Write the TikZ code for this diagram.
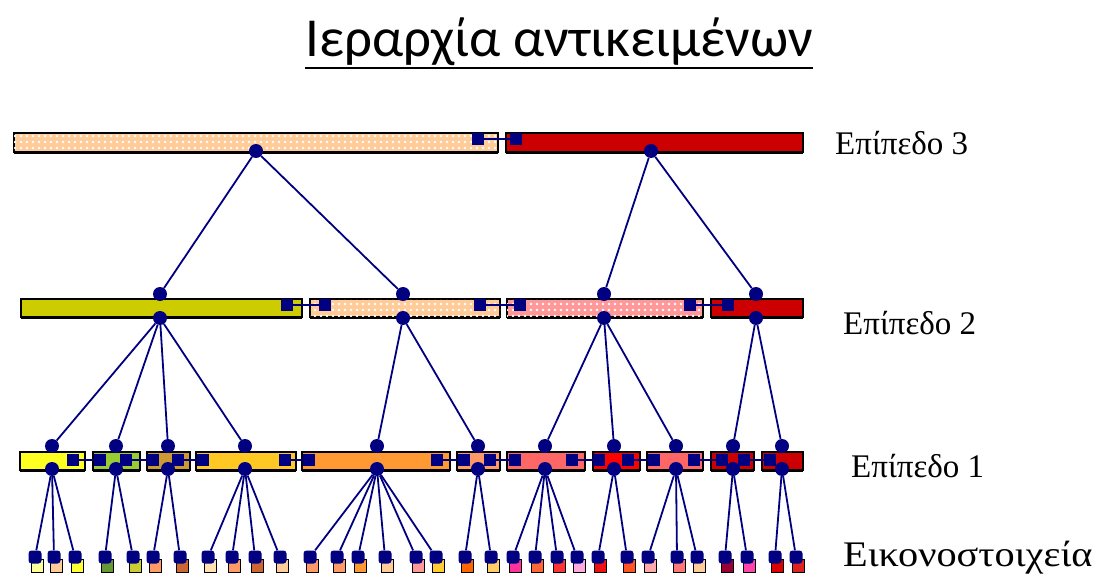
\documentclass[tikz,border=0pt]{standalone}
\usepackage{fontspec}
\setmainfont{Liberation Serif}
\newfontfamily\titlefont{Carlito}
\usetikzlibrary{patterns}
\pgfdeclarepatternformonly{wdots}{\pgfqpoint{-1pt}{-1pt}}{\pgfqpoint{7pt}{7pt}}{\pgfqpoint{6pt}{6pt}}{\pgfpathcircle{\pgfqpoint{3pt}{3pt}}{1.3pt}\pgfusepath{fill}}
\definecolor{navy}{HTML}{000080}
\definecolor{peach}{HTML}{FFCC99}
\definecolor{pinkb}{HTML}{FF9999}
\definecolor{dred}{HTML}{CC0000}
\definecolor{olive}{HTML}{CCCC00}
\definecolor{la}{HTML}{FFFF22}
\definecolor{lb}{HTML}{99CC33}
\definecolor{lc}{HTML}{CC9933}
\definecolor{ld}{HTML}{FFC822}
\definecolor{le}{HTML}{FF9933}
\definecolor{lf}{HTML}{FF9966}
\definecolor{lg}{HTML}{FF6666}
\definecolor{lh}{HTML}{FF0000}
\definecolor{li}{HTML}{FF6666}
\definecolor{lj}{HTML}{CC0000}
\definecolor{lk}{HTML}{CC0000}
\definecolor{px1}{HTML}{FFFF99}
\definecolor{px2}{HTML}{FFCC99}
\definecolor{px3}{HTML}{FFFF33}
\definecolor{px4}{HTML}{669933}
\definecolor{px5}{HTML}{CCCC33}
\definecolor{px6}{HTML}{FF9966}
\definecolor{px7}{HTML}{CC6633}
\definecolor{px8}{HTML}{FFE0B0}
\definecolor{px9}{HTML}{FF9966}
\definecolor{px10}{HTML}{CC6633}
\definecolor{px11}{HTML}{FFCC99}
\definecolor{px12}{HTML}{FF9966}
\definecolor{px13}{HTML}{FF9966}
\definecolor{px14}{HTML}{FF9933}
\definecolor{px15}{HTML}{FFCC99}
\definecolor{px16}{HTML}{FF9999}
\definecolor{px17}{HTML}{FFCC33}
\definecolor{px18}{HTML}{FF6600}
\definecolor{px19}{HTML}{FFCC66}
\definecolor{px20}{HTML}{FF3399}
\definecolor{px21}{HTML}{FF6633}
\definecolor{px22}{HTML}{FF3333}
\definecolor{px23}{HTML}{FFAADD}
\definecolor{px24}{HTML}{EE1111}
\definecolor{px25}{HTML}{FF5522}
\definecolor{px26}{HTML}{FFAAAA}
\definecolor{px27}{HTML}{FF7777}
\definecolor{px28}{HTML}{FFCC99}
\definecolor{px29}{HTML}{990033}
\definecolor{px30}{HTML}{FF44AA}
\definecolor{px31}{HTML}{DD0000}
\definecolor{px32}{HTML}{DD2222}
\newcommand\mybar[6]{%
  \node[bar,#6,minimum width={(#3-#2)*1pt},minimum height={(#5-#4)*1pt}] (#1) at ({(#2+#3)/2},{(#4+#5)/2}) {};
  \draw[line width=1.2pt] ([yshift=-1pt]#1.south west) -- ([yshift=-1pt]#1.south east);}
\tikzset{
  bar/.style={draw=black,line width=1.6pt,rectangle,inner sep=0pt,outer sep=0pt},
  dotfill/.style={fill=#1,postaction={pattern=wdots,pattern color=white}},
  dot/.style={circle,fill=navy,inner sep=0pt,minimum size=14pt},
  sq/.style={rectangle,fill=navy,inner sep=0pt,minimum size=12pt},
  conn/.style={draw=navy,line width=1.8pt},
  link/.style={draw=navy,line width=1.4pt},
  pbody/.style={rectangle,draw=black,line width=0.9pt,inner sep=0pt,minimum width=12pt,minimum height=13pt},
  pcap/.style={rectangle,rounded corners=3pt,fill=navy,inner sep=0pt,minimum width=13pt,minimum height=13pt},
  lab/.style={anchor=west,inner sep=0pt,font=\fontsize{33}{39}\selectfont},
}
\begin{document}
\begin{tikzpicture}[x=1pt,y=-1pt]
\fill[white] (0,0) rectangle (1096,583);
\useasboundingbox (0,0) rectangle (1096,583);
% title
\node[anchor=base,inner sep=0pt,font=\titlefont\fontsize{55}{64}\selectfont] (title) at (559,57) {Ιεραρχία αντικειμένων};
\draw[line width=2.8pt] ([yshift=-11pt]title.base west) -- ([yshift=-11pt]title.base east);
% level 3
\mybar{A}{14}{498}{133}{152}{dotfill=peach}
\mybar{B}{506}{803}{133}{152}{fill=dred}
\node[sq] (sA) at (478,139) {};
\node[sq] (sB) at (516,139) {};
\draw[link] (sA) -- (sB);
\node[dot] (dA) at (256,151) {};
\node[dot] (dB) at (651,151) {};
% level 2
\mybar{C1}{21}{302}{299}{317}{fill=olive}
\mybar{C2}{310}{500}{299}{317}{dotfill=peach}
\mybar{C3}{507}{703}{299}{317}{dotfill=pinkb}
\mybar{C4}{711}{803}{299}{317}{fill=dred}
\node[sq] (r21) at (287,305) {};
\node[sq] (l22) at (325,305) {};
\node[sq] (r22) at (480,305) {};
\node[sq] (l23) at (520,305) {};
\node[sq] (r23) at (690,305) {};
\node[sq] (l24) at (728,305) {};
\draw[link] (r21) -- (l22);
\draw[link] (r22) -- (l23);
\draw[link] (r23) -- (l24);
\foreach \i/\x in {1/160,2/403,3/604,4/756}{
  \node[dot] (t2\i) at (\x,294) {};
  \node[dot] (b2\i) at (\x,318) {};
}
\draw[conn] (dA) -- (t21);
\draw[conn] (dA) -- (t22);
\draw[conn] (dB) -- (t23);
\draw[conn] (dB) -- (t24);
% level 1
\foreach \i/\l/\r/\c/\d in {1/20/85/la/52,2/93/140/lb/116,3/147/190/lc/168,4/196/296/ld/245,5/302/450/le/377,6/457/500/lf/478,7/507/585/lg/545,8/593/640/lh/614,9/647/703/li/676,10/711/754/lj/733,11/762/803/lk/782}{
  \mybar{L\i}{\l}{\r}{452}{470}{fill=\c}
}
\foreach \i/\x in {2/100,3/153,4/203,5/309,6/464,7/515,8/599,9/654,10/722,11/770}{
  \node[sq] (ql\i) at (\x,460) {};
}
\foreach \i/\x in {1/73,2/126,3/178,4/285,5/437,6/490,7/572,8/628,9/694,10/744}{
  \node[sq] (qr\i) at (\x,460) {};
}
\foreach \i [evaluate=\i as \j using int(\i+1)] in {1,...,10}{
  \draw[link] (qr\i) -- (ql\j);
}
\foreach \i/\x in {1/52,2/116,3/168,4/245,5/377,6/478,7/545,8/614,9/676,10/733,11/782}{
  \node[dot] (u\i) at (\x,446) {};
  \node[dot] (v\i) at (\x,469) {};
}
\foreach \p/\k in {1/1,1/2,1/3,1/4,2/5,2/6,3/7,3/8,3/9,4/10,4/11}{
  \draw[conn] (b2\p) -- (u\k);
}
% pixels
\foreach \i/\x/\p in {1/35/1,2/54/1,3/75/1,4/105/2,5/133/2,6/153/3,7/180/3,8/208/4,9/232/4,10/255/4,11/280/4,12/310/5,13/337/5,14/358/5,15/385/5,16/416/5,17/436/5,18/465/6,19/491/6,20/513/7,21/535/7,22/557/7,23/577/7,24/598/8,25/627/8,26/648/9,27/677/9,28/697/9,29/725/10,30/747/10,31/775/11,32/796/11}{
  \node[pbody,fill=px\i] (pb\i) at (\x+2.5,566) {};
  \node[pcap] (pc\i) at (\x,557) {};
  \draw[conn] (v\p) -- (pc\i);
}
% labels
\node[lab] (lv3) at (835,143) {Επίπεδο 3};
\node[lab] (lv2) at (843,323) {Επίπεδο 2};
\node[lab] (lv1) at (851,466) {Επίπεδο 1};
\node[lab,font=\fontsize{36}{42}\selectfont,xscale=1.12] (lv0) at (843,558) {Εικονοστοιχεία};
\end{tikzpicture}
\end{document}
